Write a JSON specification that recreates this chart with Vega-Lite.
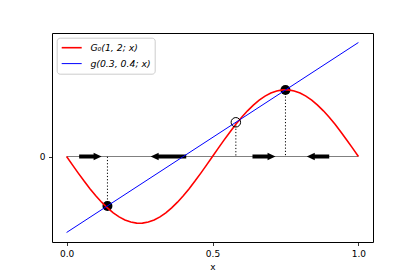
{
  "$schema": "https://vega.github.io/schema/vega-lite/v6.json",
  "width": 321,
  "height": 209,
  "autosize": {"type": "none"},
  "padding": {"left": 52, "top": 33, "right": 42, "bottom": 35},
  "background": "white",
  "config": {
    "view": {"stroke": "black", "strokeWidth": 1},
    "font": "DejaVu Sans",
    "axis": {
      "grid": false, "domain": false, "tickSize": 3.5, "tickColor": "black", "tickWidth": 0.8,
      "labelFont": "DejaVu Sans", "labelFontSize": 9, "labelColor": "black", "labelPadding": 3.5,
      "titleFont": "DejaVu Sans", "titleFontSize": 9, "titleFontWeight": "normal", "titleColor": "black", "titlePadding": 4.5
    }
  },
  "datasets": {
    "curves": [
      {"x": 0, "y": 0, "s": "G₀(1, 2; x)"},
      {"x": 0.02, "y": -0.1467, "s": "G₀(1, 2; x)"},
      {"x": 0.04, "y": -0.2912, "s": "G₀(1, 2; x)"},
      {"x": 0.06, "y": -0.4311, "s": "G₀(1, 2; x)"},
      {"x": 0.08, "y": -0.5642, "s": "G₀(1, 2; x)"},
      {"x": 0.10, "y": -0.6883, "s": "G₀(1, 2; x)"},
      {"x": 0.12, "y": -0.8016, "s": "G₀(1, 2; x)"},
      {"x": 0.14, "y": -0.9023, "s": "G₀(1, 2; x)"},
      {"x": 0.16, "y": -0.9887, "s": "G₀(1, 2; x)"},
      {"x": 0.18, "y": -1.0595, "s": "G₀(1, 2; x)"},
      {"x": 0.20, "y": -1.1137, "s": "G₀(1, 2; x)"},
      {"x": 0.22, "y": -1.1503, "s": "G₀(1, 2; x)"},
      {"x": 0.24, "y": -1.1687, "s": "G₀(1, 2; x)"},
      {"x": 0.25, "y": -1.171, "s": "G₀(1, 2; x)"},
      {"x": 0.26, "y": -1.1687, "s": "G₀(1, 2; x)"},
      {"x": 0.28, "y": -1.1503, "s": "G₀(1, 2; x)"},
      {"x": 0.30, "y": -1.1137, "s": "G₀(1, 2; x)"},
      {"x": 0.32, "y": -1.0595, "s": "G₀(1, 2; x)"},
      {"x": 0.34, "y": -0.9887, "s": "G₀(1, 2; x)"},
      {"x": 0.36, "y": -0.9023, "s": "G₀(1, 2; x)"},
      {"x": 0.38, "y": -0.8016, "s": "G₀(1, 2; x)"},
      {"x": 0.40, "y": -0.6883, "s": "G₀(1, 2; x)"},
      {"x": 0.42, "y": -0.5642, "s": "G₀(1, 2; x)"},
      {"x": 0.44, "y": -0.4311, "s": "G₀(1, 2; x)"},
      {"x": 0.46, "y": -0.2912, "s": "G₀(1, 2; x)"},
      {"x": 0.48, "y": -0.1467, "s": "G₀(1, 2; x)"},
      {"x": 0.50, "y": 0, "s": "G₀(1, 2; x)"},
      {"x": 0.52, "y": 0.1467, "s": "G₀(1, 2; x)"},
      {"x": 0.54, "y": 0.2912, "s": "G₀(1, 2; x)"},
      {"x": 0.56, "y": 0.4311, "s": "G₀(1, 2; x)"},
      {"x": 0.58, "y": 0.5642, "s": "G₀(1, 2; x)"},
      {"x": 0.60, "y": 0.6883, "s": "G₀(1, 2; x)"},
      {"x": 0.62, "y": 0.8016, "s": "G₀(1, 2; x)"},
      {"x": 0.64, "y": 0.9023, "s": "G₀(1, 2; x)"},
      {"x": 0.66, "y": 0.9887, "s": "G₀(1, 2; x)"},
      {"x": 0.68, "y": 1.0595, "s": "G₀(1, 2; x)"},
      {"x": 0.70, "y": 1.1137, "s": "G₀(1, 2; x)"},
      {"x": 0.72, "y": 1.1503, "s": "G₀(1, 2; x)"},
      {"x": 0.74, "y": 1.1687, "s": "G₀(1, 2; x)"},
      {"x": 0.75, "y": 1.171, "s": "G₀(1, 2; x)"},
      {"x": 0.76, "y": 1.1687, "s": "G₀(1, 2; x)"},
      {"x": 0.78, "y": 1.1503, "s": "G₀(1, 2; x)"},
      {"x": 0.80, "y": 1.1137, "s": "G₀(1, 2; x)"},
      {"x": 0.82, "y": 1.0595, "s": "G₀(1, 2; x)"},
      {"x": 0.84, "y": 0.9887, "s": "G₀(1, 2; x)"},
      {"x": 0.86, "y": 0.9023, "s": "G₀(1, 2; x)"},
      {"x": 0.88, "y": 0.8016, "s": "G₀(1, 2; x)"},
      {"x": 0.90, "y": 0.6883, "s": "G₀(1, 2; x)"},
      {"x": 0.92, "y": 0.5642, "s": "G₀(1, 2; x)"},
      {"x": 0.94, "y": 0.4311, "s": "G₀(1, 2; x)"},
      {"x": 0.96, "y": 0.2912, "s": "G₀(1, 2; x)"},
      {"x": 0.98, "y": 0.1467, "s": "G₀(1, 2; x)"},
      {"x": 1.0, "y": 0, "s": "G₀(1, 2; x)"},
      {"x": 0, "y": -1.3333, "s": "g(0.3, 0.4; x)"},
      {"x": 1, "y": 2.0, "s": "g(0.3, 0.4; x)"}
    ],
    "arrows": [
      {"tail": 0.043, "tip": 0.12, "dir": "right"},
      {"tail": 0.41, "tip": 0.288, "dir": "left"},
      {"tail": 0.637, "tip": 0.716, "dir": "right"},
      {"tail": 0.9, "tip": 0.823, "dir": "left"}
    ],
    "points": [
      {"x": 0.14, "y": -0.867, "kind": "stable"},
      {"x": 0.58, "y": 0.6, "kind": "unstable"},
      {"x": 0.75, "y": 1.167, "kind": "stable"}
    ]
  },
  "layer": [
    {
      "data": {"values": [{"a": 0, "b": 1, "y": 0}]},
      "mark": {"type": "rule", "color": "#808080", "strokeWidth": 1},
      "encoding": {
        "x": {"field": "a", "type": "quantitative", "scale": {"domain": [-0.05, 1.05], "nice": false, "zero": false},
              "axis": {"values": [0, 0.5, 1], "format": ".1f", "title": "x"}},
        "x2": {"field": "b"},
        "y": {"field": "y", "type": "quantitative", "scale": {"domain": [-1.5, 2.1667], "nice": false, "zero": false},
              "axis": {"values": [0], "format": "d", "title": null}}
      }
    },
    {
      "data": {"name": "points"},
      "mark": {"type": "rule", "color": "black", "strokeWidth": 1, "strokeDash": [1.2, 2]},
      "encoding": {
        "x": {"field": "x", "type": "quantitative"},
        "y": {"field": "y", "type": "quantitative"},
        "y2": {"datum": 0}
      }
    },
    {
      "data": {"name": "arrows"},
      "transform": [{"filter": "datum.dir === 'right'"}],
      "mark": {"type": "rule", "color": "black", "strokeWidth": 4, "strokeCap": "butt", "x2Offset": -7},
      "encoding": {
        "x": {"field": "tail", "type": "quantitative"},
        "x2": {"field": "tip"},
        "y": {"datum": 0}
      }
    },
    {
      "data": {"name": "arrows"},
      "transform": [{"filter": "datum.dir === 'left'"}],
      "mark": {"type": "rule", "color": "black", "strokeWidth": 4, "strokeCap": "butt", "x2Offset": 7},
      "encoding": {
        "x": {"field": "tail", "type": "quantitative"},
        "x2": {"field": "tip"},
        "y": {"datum": 0}
      }
    },
    {
      "data": {"name": "arrows"},
      "transform": [{"filter": "datum.dir === 'right'"}],
      "mark": {"type": "point", "shape": "M1,0L-1,-0.95L-1,0.95Z", "size": 64, "filled": true, "color": "black", "opacity": 1, "xOffset": -4},
      "encoding": {
        "x": {"field": "tip", "type": "quantitative"},
        "y": {"datum": 0}
      }
    },
    {
      "data": {"name": "arrows"},
      "transform": [{"filter": "datum.dir === 'left'"}],
      "mark": {"type": "point", "shape": "M-1,0L1,-0.95L1,0.95Z", "size": 64, "filled": true, "color": "black", "opacity": 1, "xOffset": 4},
      "encoding": {
        "x": {"field": "tip", "type": "quantitative"},
        "y": {"datum": 0}
      }
    },
    {
      "data": {"name": "points"},
      "transform": [{"filter": "datum.kind === 'stable'"}],
      "mark": {"type": "circle", "size": 100, "color": "black", "opacity": 1},
      "encoding": {
        "x": {"field": "x", "type": "quantitative"},
        "y": {"field": "y", "type": "quantitative"}
      }
    },
    {
      "data": {"name": "curves"},
      "mark": {"type": "line", "strokeCap": "butt"},
      "encoding": {
        "x": {"field": "x", "type": "quantitative"},
        "y": {"field": "y", "type": "quantitative"},
        "color": {
          "field": "s", "type": "nominal",
          "scale": {"domain": ["G₀(1, 2; x)", "g(0.3, 0.4; x)"], "range": ["#ff0000", "#0000ff"]},
          "legend": {
            "title": null, "orient": "none", "legendX": 4.7, "legendY": 4.7,
            "padding": 4, "strokeColor": "#cccccc", "fillColor": "rgba(255,255,255,0.8)", "cornerRadius": 3,
            "symbolType": "M-1,0L3,0", "symbolSize": 100, "symbolStrokeWidth": 1.5,
            "labelOffset": 17.7, "labelFont": "DejaVu Sans", "labelFontSize": 9.3, "labelFontStyle": "italic",
            "labelColor": "black", "rowPadding": 4.4
          }
        },
        "strokeWidth": {
          "field": "s", "type": "nominal",
          "scale": {"domain": ["G₀(1, 2; x)", "g(0.3, 0.4; x)"], "range": [1.6, 1]},
          "legend": null
        }
      }
    },
    {
      "data": {"name": "points"},
      "transform": [{"filter": "datum.kind === 'unstable'"}],
      "mark": {"type": "point", "shape": "circle", "size": 90, "stroke": "black", "strokeWidth": 1, "fill": null, "filled": false, "opacity": 1},
      "encoding": {
        "x": {"field": "x", "type": "quantitative"},
        "y": {"field": "y", "type": "quantitative"}
      }
    }
  ]
}
